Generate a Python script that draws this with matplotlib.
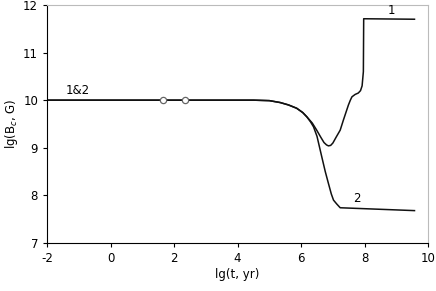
import matplotlib
matplotlib.use("Agg")
import matplotlib.pyplot as plt

plt.rcParams["axes.unicode_minus"] = False

# curve 1
x1 = [-2, 4.5, 5.0, 5.34, 5.6, 5.86, 6.05, 6.18, 6.35, 6.49, 6.62, 6.72, 6.8, 6.86, 6.93, 7.0,
      7.1, 7.23, 7.33, 7.42, 7.49, 7.55, 7.6, 7.7, 7.8, 7.87, 7.92, 7.96, 7.97, 9.57]
y1 = [10, 10, 9.99, 9.95, 9.9, 9.83, 9.74, 9.65, 9.52, 9.37, 9.22, 9.11, 9.06, 9.04, 9.05, 9.1,
      9.22, 9.37, 9.58, 9.76, 9.9, 10.0, 10.07, 10.12, 10.15, 10.2, 10.3, 10.6, 11.71, 11.7]

# curve 2
x2 = [-2, 4.5, 5.0, 5.34, 5.6, 5.86, 6.05, 6.18, 6.3, 6.39, 6.5, 6.65, 6.76, 6.86, 6.95, 7.02,
      7.12, 7.23, 9.57]
y2 = [10, 10, 9.99, 9.95, 9.9, 9.83, 9.74, 9.65, 9.54, 9.44, 9.24, 8.81, 8.5, 8.25, 8.03, 7.9,
      7.82, 7.74, 7.68]

# open circles on the flat part
xm = [1.65, 2.35]
ym = [10, 10]

fig = plt.figure(figsize=(4.36, 2.91), dpi=100)
ax = fig.add_axes([0.108, 0.165, 0.874, 0.818])

ax.plot(x1, y1, color="#111111", lw=1.1)
ax.plot(x2, y2, color="#111111", lw=1.1)
ax.plot(xm, ym, "o", ms=4.5, mfc="white", mec="#666666", mew=0.9)

ax.text(-1.05, 10.06, "1&2", fontsize=8.5, ha="center", va="bottom")
ax.text(8.85, 11.75, "1", fontsize=8.5, ha="center", va="bottom")
ax.text(7.75, 7.8, "2", fontsize=8.5, ha="center", va="bottom")

ax.set_xlim(-2, 10)
ax.set_ylim(7, 12)
ax.set_xticks(range(-2, 11, 2))
ax.set_yticks(range(7, 13))
ax.tick_params(labelsize=8.5, length=3, direction="out", width=0.8)
ax.set_xlabel("lg(t, yr)", fontsize=8.5, labelpad=2)
ax.set_ylabel("lg(B$_c$, G)", fontsize=8.5, labelpad=2)

ax.spines["left"].set_color("black")
ax.spines["bottom"].set_color("black")
ax.spines["top"].set_color("#bbbbbb")
ax.spines["right"].set_color("#bbbbbb")

fig.savefig("out.png", dpi=100)
